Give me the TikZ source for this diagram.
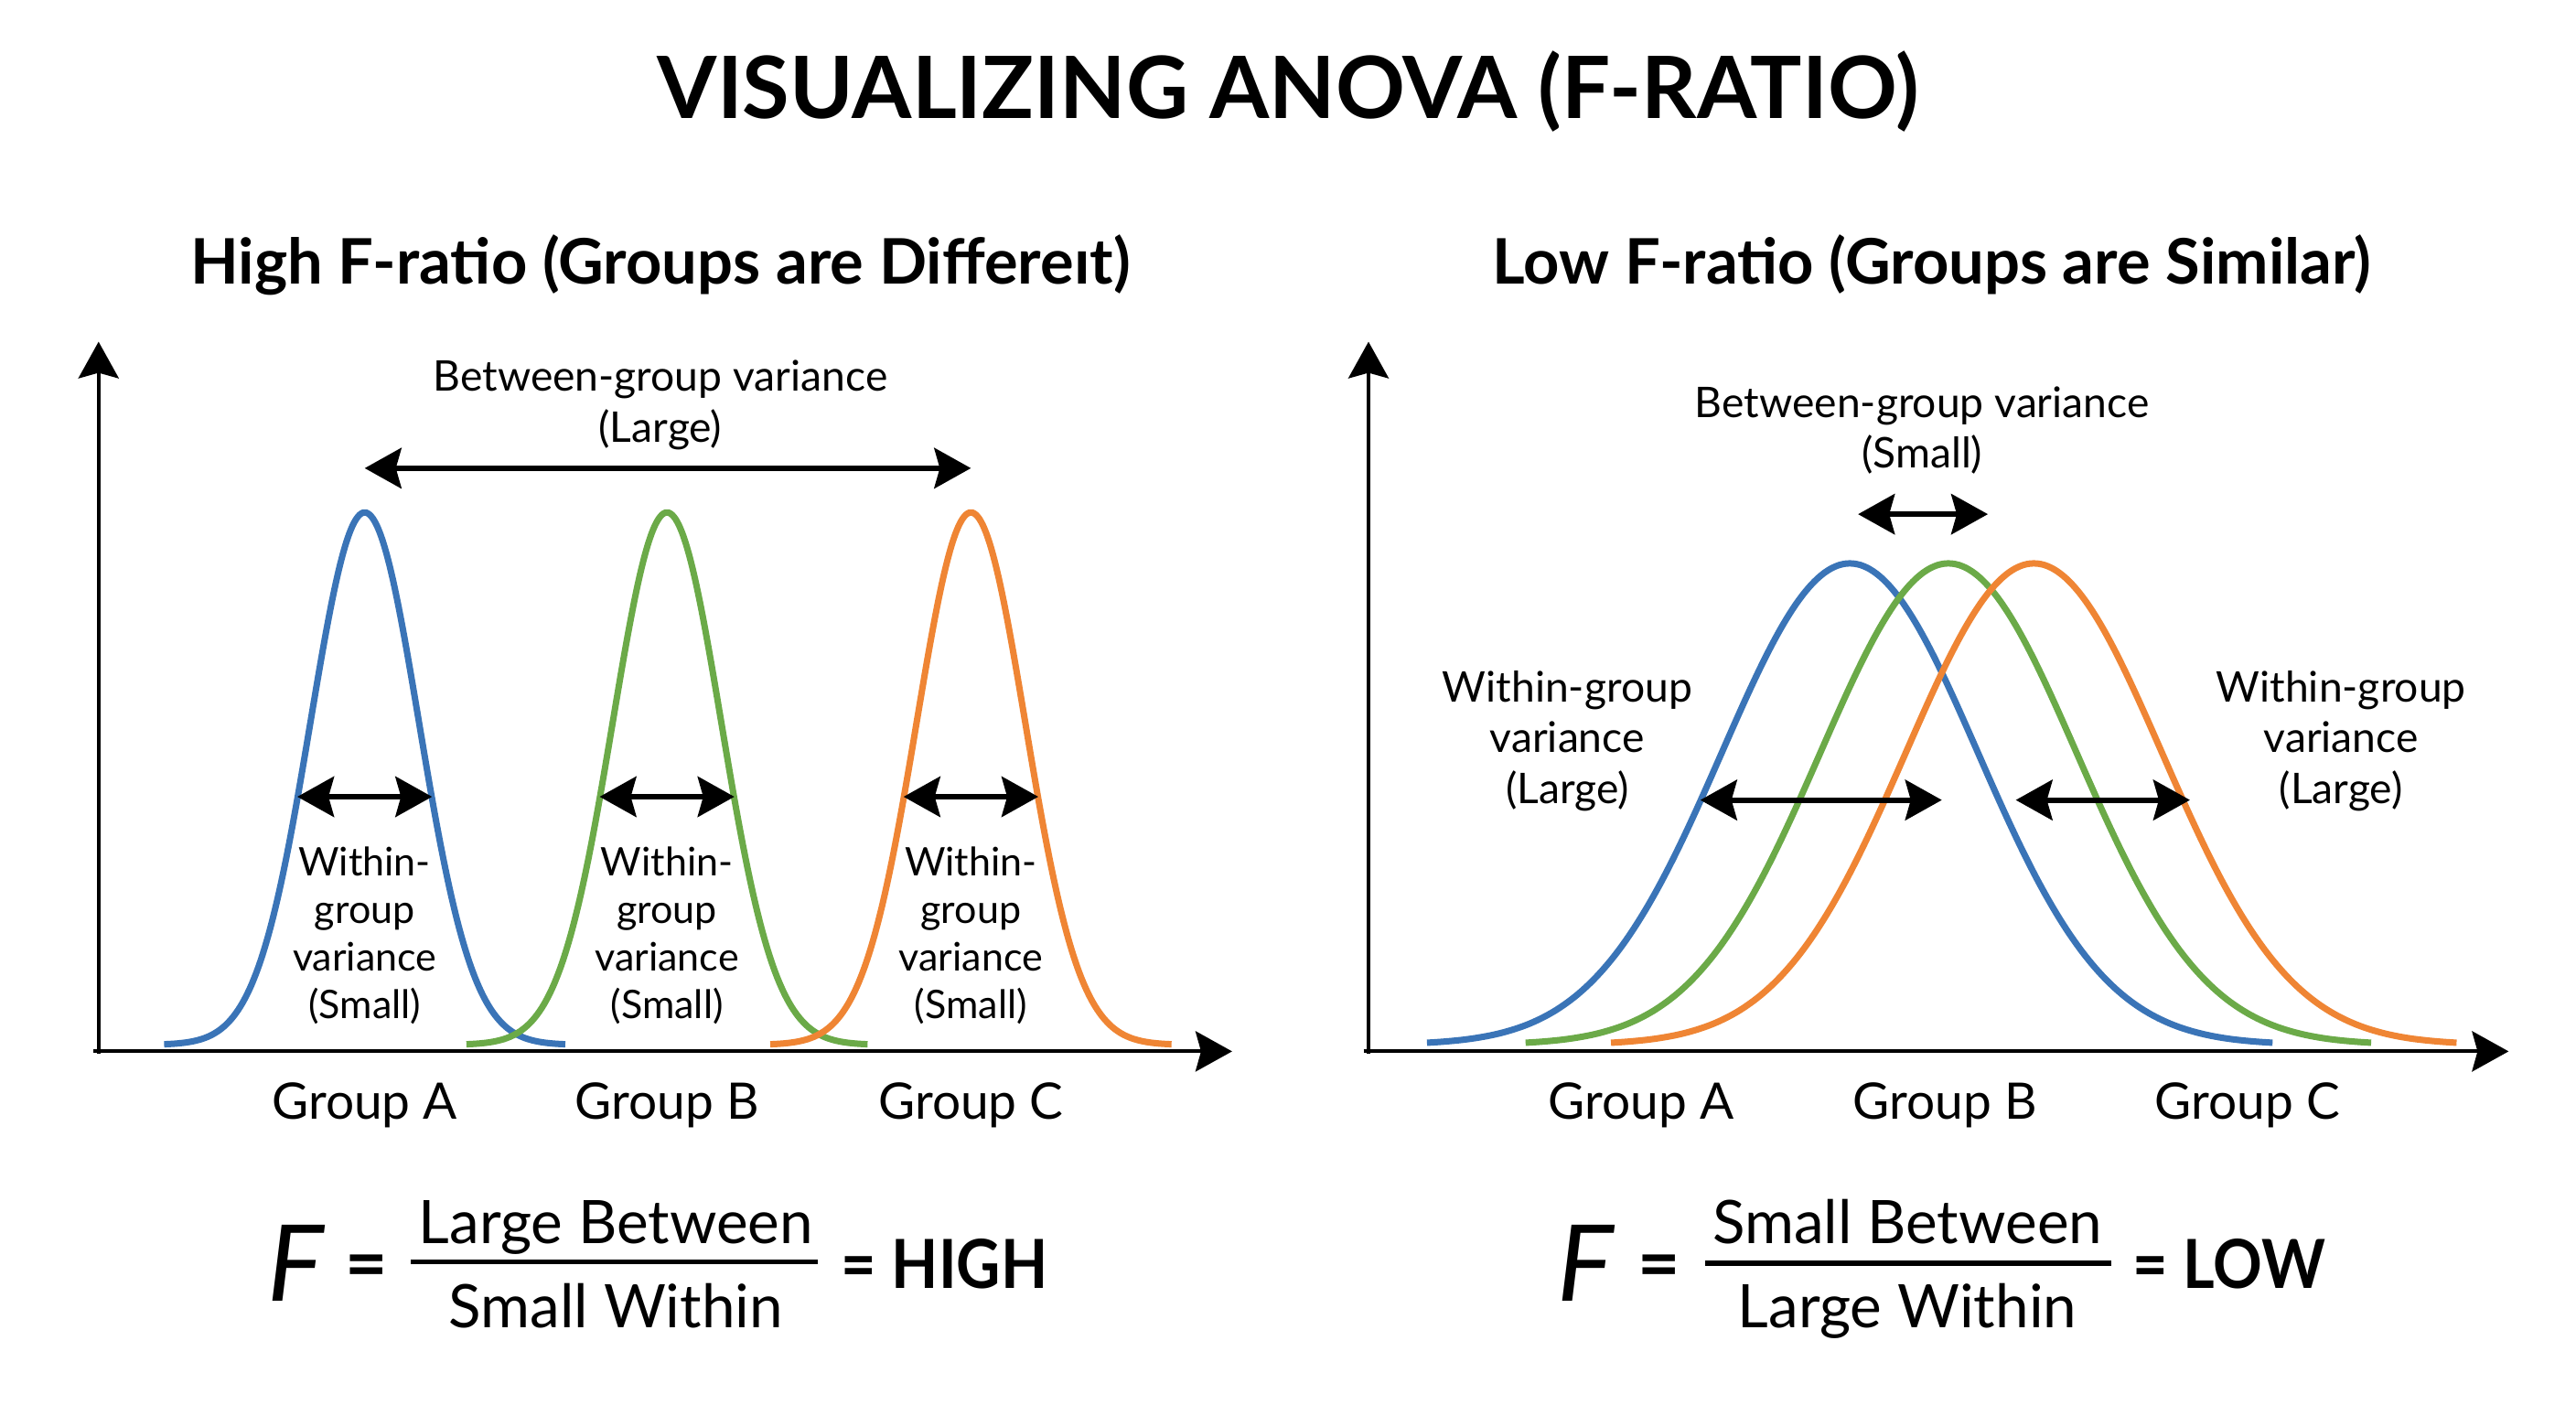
\documentclass[tikz,border=0pt]{standalone}
\usepackage{fontspec}
\setmainfont{Lato}
\usetikzlibrary{arrows.meta}
\definecolor{cblue}{HTML}{3A74B7}
\definecolor{cgreen}{HTML}{6BAA48}
\definecolor{corange}{HTML}{EF8534}
\tikzset{
  axisline/.style={line width=2pt, -{Stealth[length=20pt, width=22pt, inset=3pt]}},
  dblarrow/.style={line width=3pt, {Stealth[length=20pt, width=22pt, inset=3pt]}-{Stealth[length=20pt, width=22pt, inset=3pt]}},
  curve/.style={line width=3.5pt},
  titletxt/.style={font=\fontsize{47}{54}\selectfont\bfseries, inner sep=0pt, anchor=base},
  subtxt/.style={font=\fontsize{34.3}{40}\selectfont\bfseries, inner sep=0pt, anchor=base},
  lbl/.style={font=\fontsize{23.1}{27.8}\selectfont, align=center, inner sep=0pt, anchor=base},
  lblsmall/.style={font=\fontsize{21.5}{26}\selectfont, align=center, inner sep=0pt, anchor=base},
  grp/.style={font=\fontsize{27.5}{32}\selectfont, inner sep=0pt, anchor=base},
  frac/.style={font=\fontsize{32.8}{38}\selectfont, inner sep=0pt, anchor=base},
  bigF/.style={font=\fontsize{58}{64}\selectfont\itshape, inner sep=0pt, anchor=base},
  eqs/.style={font=\fontsize{40}{46}\selectfont\bfseries, inner sep=0pt, anchor=base},
  res/.style={font=\fontsize{37}{44}\selectfont\bfseries, inner sep=0pt, anchor=base west},
}
\begin{document}
\begin{tikzpicture}[x=0.898pt, y=-0.898pt]
\useasboundingbox[fill=white] (0,0) rectangle (1568,855);

% Title and subtitles
\node[titletxt] (title) at (784,72) {VISUALIZING ANOVA (F-RATIO)};
\node[subtxt] (subL) at (402,173) {High F-ratio (Groups are Differeıt)};
\node[subtxt] (subR) at (1176,173) {Low F-ratio (Groups are Similar)};

% ---------------- Left plot ----------------
\coordinate (Lyb) at (60,641.5);
\coordinate (Lyt) at (60,208);
\coordinate (Lxb) at (57,640);
\coordinate (Lxe) at (750,640);
\draw[axisline] (Lyb) -- (Lyt);
\draw[axisline] (Lxb) -- (Lxe);

\draw[cblue, curve] plot[domain=-3.7:3.7, samples=120, smooth] ({222+33*\x}, {636-324*exp(-0.5*\x*\x)});
\draw[cgreen, curve] plot[domain=-3.7:3.7, samples=120, smooth] ({406+33*\x}, {636-324*exp(-0.5*\x*\x)});
\draw[corange, curve] plot[domain=-3.7:3.7, samples=120, smooth] ({591+33*\x}, {636-324*exp(-0.5*\x*\x)});

\node[lbl] (betL) at (402,269) {Between-group variance\\(Large)};
\coordinate (bLa) at (222,285);
\coordinate (bLb) at (591,285);
\draw[dblarrow] (bLa) -- (bLb);

\coordinate (wA1) at (181,485); \coordinate (wA2) at (263,485);
\coordinate (wB1) at (365,485); \coordinate (wB2) at (447,485);
\coordinate (wC1) at (550,485); \coordinate (wC2) at (632,485);
\draw[dblarrow] (wA1) -- (wA2);
\draw[dblarrow] (wB1) -- (wB2);
\draw[dblarrow] (wC1) -- (wC2);

\node[lblsmall] (wlA) at (222,620) {Within-\\group\\variance\\(Small)};
\node[lblsmall] (wlB) at (406,620) {Within-\\group\\variance\\(Small)};
\node[lblsmall] (wlC) at (591,620) {Within-\\group\\variance\\(Small)};

\node[grp] (gLA) at (222,681) {Group A};
\node[grp] (gLB) at (406,681) {Group B};
\node[grp] (gLC) at (591,681) {Group C};

% formula left
\node[bigF] (FL) at (180,792) {F};
\node[eqs] (eqL) at (223,785) {=};
\node[frac] (numL) at (375,757) {Large Between};
\node[frac] (denL) at (375,808) {Small Within};
\coordinate (barL1) at (250,768);
\coordinate (barL2) at (498,768);
\draw[line width=2.7pt] (barL1) -- (barL2);
\node[res] (resL) at (512,784) {\scalebox{0.9}[1]{= HIGH}};

% ---------------- Right plot ----------------
\coordinate (Ryb) at (833,641.5);
\coordinate (Ryt) at (833,208);
\coordinate (Rxb) at (830,640);
\coordinate (Rxe) at (1527,640);
\draw[axisline] (Ryb) -- (Ryt);
\draw[axisline] (Rxb) -- (Rxe);

\draw[cblue, curve] plot[domain=-3.3:3.3, samples=120, smooth] ({1126+78*\x}, {636-293*exp(-0.5*\x*\x)});
\draw[cgreen, curve] plot[domain=-3.3:3.3, samples=120, smooth] ({1186+78*\x}, {636-293*exp(-0.5*\x*\x)});
\draw[corange, curve] plot[domain=-3.3:3.3, samples=120, smooth] ({1238+78*\x}, {636-293*exp(-0.5*\x*\x)});

\node[lbl] (betR) at (1170,285) {Between-group variance\\(Small)};
\coordinate (bRa) at (1131,313);
\coordinate (bRb) at (1210,313);
\draw[dblarrow] (bRa) -- (bRb);

\coordinate (wR1) at (1035,487); \coordinate (wR2) at (1182,487);
\coordinate (wR3) at (1227,487); \coordinate (wR4) at (1333,487);
\draw[dblarrow] (wR1) -- (wR2);
\draw[dblarrow] (wR3) -- (wR4);

\node[lbl] (wlRL) at (954,489) {Within-group\\variance\\(Large)};
\node[lbl] (wlRR) at (1425,489) {Within-group\\variance\\(Large)};

\node[grp] (gRA) at (999,681) {Group A};
\node[grp] (gRB) at (1184,681) {Group B};
\node[grp] (gRC) at (1368,681) {Group C};

% formula right
\node[bigF] (FR) at (965,792) {F};
\node[eqs] (eqR) at (1010,785) {=};
\node[frac] (numR) at (1161,757) {Small Between};
\node[frac] (denR) at (1161,808) {Large Within};
\coordinate (barR1) at (1038,769);
\coordinate (barR2) at (1285,769);
\draw[line width=2.7pt] (barR1) -- (barR2);
\node[res] (resR) at (1298,784) {\scalebox{0.9}[1]{= LOW}};
\end{tikzpicture}
\end{document}
